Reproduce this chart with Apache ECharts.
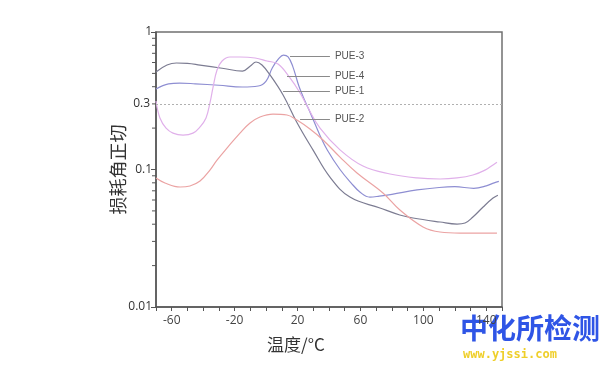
<!DOCTYPE html>
<html><head><meta charset="utf-8">
<script src="https://cdn.jsdelivr.net/npm/echarts@6/dist/echarts.min.js"></script>
<style>html,body{margin:0;padding:0;background:#fff}#c{width:609px;height:369px}</style>
</head><body><div id="c"></div>
<script>
// Temperature (°C) vs loss tangent
const pue3 = [[-70,0.385],[-62,0.42],[-55,0.425],[-45,0.42],[-30,0.41],[-15,0.398],[-5,0.405],[0,0.44],[4,0.55],[8,0.64],[11,0.68],[14,0.66],[17,0.56],[21,0.40],[25,0.31],[28,0.26],[34,0.18],[39,0.138],[47,0.10],[54,0.080],[60,0.068],[66,0.063],[72,0.064],[80,0.066],[96,0.071],[110,0.074],[120,0.075],[132,0.073],[140,0.076],[145,0.080],[148,0.082]];
const pue4 = [[-70,0.512],[-63,0.575],[-57,0.595],[-50,0.592],[-42,0.575],[-28,0.545],[-15,0.52],[-10,0.566],[-6.4,0.605],[-2.6,0.575],[2.5,0.487],[10.8,0.348],[19.6,0.22],[29.8,0.139],[40.6,0.088],[53.3,0.063],[72.4,0.0525],[85,0.0467],[93.4,0.0444],[110.6,0.0415],[121.4,0.0401],[126.5,0.0408],[131.5,0.0451],[138,0.0534],[144.3,0.062],[147.4,0.065]];
const pue1 = [[-70,0.315],[-67.5,0.237],[-63.6,0.200],[-59.2,0.184],[-52.8,0.178],[-46.5,0.184],[-42,0.204],[-38.2,0.237],[-35.7,0.305],[-33.8,0.392],[-31.2,0.529],[-28,0.615],[-23,0.658],[-16.6,0.658],[-7,0.647],[0.6,0.615],[7.6,0.585],[15.2,0.463],[21.6,0.36],[26,0.29],[34.3,0.2],[47,0.139],[61.6,0.106],[78.8,0.0927],[95.9,0.0868],[110.6,0.0853],[121.4,0.0868],[131.5,0.0912],[139.2,0.099],[144.3,0.108],[146.8,0.113]];
const pue2 = [[-70,0.0867],[-64.3,0.0798],[-54.7,0.0746],[-48.4,0.0759],[-42,0.0824],[-35.7,0.099],[-31.2,0.117],[-24.2,0.146],[-16.6,0.184],[-10.2,0.218],[-3.9,0.241],[4.4,0.253],[13.3,0.249],[19.6,0.229],[27.9,0.197],[36.2,0.164],[47,0.123],[57.8,0.0943],[74.3,0.0675],[85.1,0.0507],[99.8,0.0382],[110.6,0.0351],[123.3,0.0345],[144.3,0.0345],[146.8,0.0345]];
const seriesNames = ['PUE-3','PUE-4','PUE-1','PUE-2'];
// label leader lines: [xStart, xEnd, y]
const leaders = [[15.2,40.6,0.669],[13.3,40.6,0.479],[10.8,40.6,0.372],[21.6,40.6,0.233]];
const xTickLabels = [-60,-20,20,60,100,140];
const yMinorTicks = [0.02,0.03,0.04,0.05,0.06,0.07,0.08,0.09,0.2,0.3,0.4,0.5,0.6,0.7,0.8,0.9];
const refValue = 0.3;

const colors = ['#8e8ed2','#7c7c92','#e0b0ea','#eba3a3'];
const datas = [pue3,pue4,pue1,pue2];

const chart = echarts.init(document.getElementById('c'));
const series = datas.map((d,i)=>({
  name: seriesNames[i], type:'line', data:d, showSymbol:false, smooth:0.4,
  lineStyle:{color:colors[i],width:1.2}, itemStyle:{color:colors[i]},
  markLine:{silent:true,symbol:'none',animation:false,
    lineStyle:{color:'#8a8a8a',width:1,type:'solid'},
    label:{show:true,position:'end',formatter:seriesNames[i],color:'#555',fontSize:10,fontFamily:'Liberation Sans',distance:5},
    data:[[{coord:[leaders[i][0],leaders[i][2]]},{coord:[leaders[i][1],leaders[i][2]]}]]}
}));
series.push({type:'line',data:[],markLine:{silent:true,symbol:'none',animation:false,
  lineStyle:{color:'#b0b0b0',width:1,type:[2,2]},
  label:{show:true,position:'start',formatter:String(refValue),color:'#333',fontSize:12,fontFamily:'Open Sans',distance:6},
  data:[[{coord:[-70,refValue]},{coord:[150,refValue]}]]}});
series.push({type:'custom',silent:true,clip:false,z:5,data:yMinorTicks.map(v=>[-70,v]),
  renderItem:(params,api)=>{const p=api.coord([api.value(0),api.value(1)]);
    return {type:'line',shape:{x1:p[0]-4,y1:p[1],x2:p[0],y2:p[1]},style:{stroke:'#555',lineWidth:1}};}});

chart.setOption({
  animation:false,
  grid:{left:156,right:107,top:32,bottom:62,show:true,borderColor:'#707070',borderWidth:1.5,backgroundColor:'transparent'},
  xAxis:{type:'value',min:-70,max:150,interval:10,
    name:'温度/°C',nameLocation:'middle',nameGap:29,
    nameTextStyle:{fontSize:17,color:'#333',fontFamily:'Noto Sans CJK SC',padding:[0,66,0,0]},
    axisLine:{onZero:false,lineStyle:{color:'#555',width:1.5}},
    axisTick:{show:true,length:4,lineStyle:{color:'#555'}},
    axisLabel:{color:'#444',fontSize:12,fontFamily:'Open Sans',margin:8,
      formatter:v=>xTickLabels.indexOf(v)>=0?String(v):''},
    splitLine:{show:false}},
  yAxis:{type:'log',logBase:10,min:0.01,max:1,
    name:'损耗角正切',nameLocation:'middle',nameGap:29,nameRotate:90,nameMoveOverlap:false,
    nameTextStyle:{fontSize:18,color:'#333',fontFamily:'Noto Sans CJK SC'},
    axisLine:{show:true,onZero:false,lineStyle:{color:'#555',width:1.5}},
    axisTick:{show:true,length:5,lineStyle:{color:'#555'}},
    axisLabel:{color:'#333',fontSize:12,fontFamily:'Open Sans',margin:4,formatter:v=>String(+v.toPrecision(3))},
    splitLine:{show:false}},
  series:series,
  graphic:[
    {type:'text',left:460,top:314,style:{text:'中化所检测',fontSize:28,fontWeight:'bold',fill:'#2f55e6',fontFamily:'Noto Sans CJK SC'}},
    {type:'text',left:463,top:349,style:{text:'www.yjssi.com',fontSize:12,fontWeight:'bold',fill:'#efcf2a',fontFamily:'DejaVu Sans Mono'}}
  ]
});
</script></body></html>
